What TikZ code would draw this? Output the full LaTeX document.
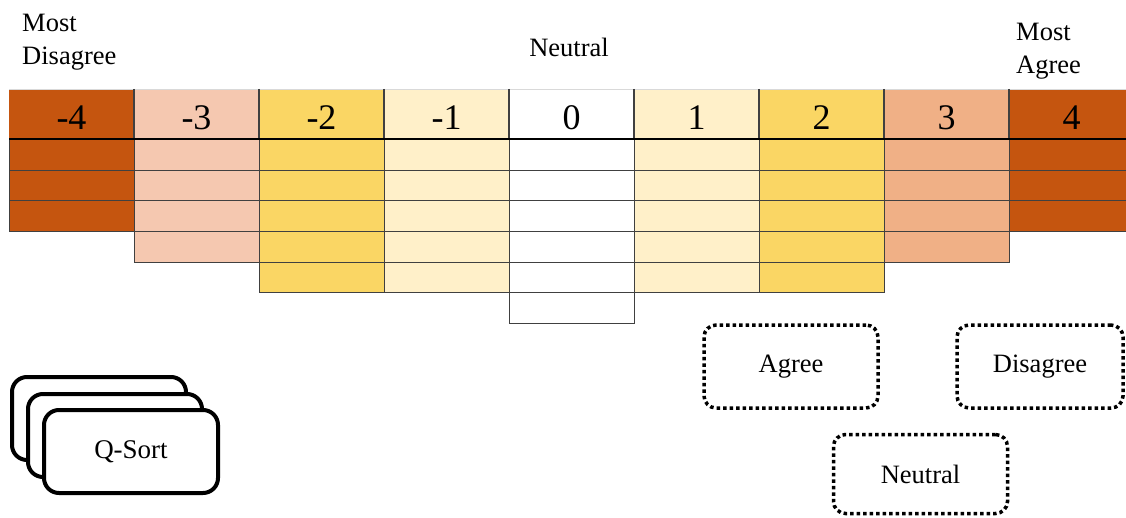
\documentclass[tikz,border=0pt]{standalone}
\usepackage{fontspec}
\setmainfont{Liberation Serif}
\definecolor{darkor}{HTML}{C5550F}
\definecolor{peach}{HTML}{F5C8B0}
\definecolor{yellowq}{HTML}{FAD664}
\definecolor{creamq}{HTML}{FFF0C9}
\definecolor{salmon}{HTML}{F0B086}
\tikzset{
  cell/.style={draw=black!75, line width=1.1pt, minimum width=125pt, minimum height=30.67pt, inner sep=0pt, anchor=north west},
  hcell/.style={minimum width=125pt, minimum height=50pt, inner sep=0pt, anchor=north west},
  num/.style={font=\fontsize{36}{40}\selectfont, anchor=base, inner sep=0pt},
  lab/.style={font=\fontsize{26.5}{32.5}\selectfont, inner sep=0pt, align=left},
  dotbox/.style={draw, line width=3.5pt, dash pattern=on 3.5pt off 3pt, rounded corners=12pt, minimum height=83pt, font=\fontsize{26.5}{32}\selectfont},
  card/.style={draw, fill=white, line width=4pt, rounded corners=15pt, minimum width=174pt, minimum height=83pt, font=\fontsize{27}{32}\selectfont},
}
\begin{document}
\begin{tikzpicture}[x=1pt,y=-1pt]
\useasboundingbox (0,0) rectangle (1126,518);
\clip (0,0) rectangle (1126,518);
% labels
\node[lab, anchor=north west] (mostdis) at (22,14) {Most\\Disagree};
\node[lab, anchor=base] (neutop) at (569,57) {Neutral};
\node[lab, anchor=north west] (mostagr) at (1016,23) {Most\\Agree};
% grid
\foreach \i/\lab/\col/\n in {0/-4/darkor/3, 1/-3/peach/4, 2/-2/yellowq/5, 3/-1/creamq/5, 4/0/white/6, 5/1/creamq/5, 6/2/yellowq/5, 7/3/salmon/4, 8/4/darkor/3} {
  \pgfmathsetmacro\xl{9+125*\i}
  \node[hcell, fill=\col] (h\i) at (\xl,89) {};
  \node[num] (n\i) at (\xl+62.5,130) {\lab};
  \foreach \j in {1,...,\n} {
    \node[cell, fill=\col] (c\i-\j) at (\xl,{139+30.67*(\j-1)}) {};
  }
}
\draw[black!15, line width=0.8pt] (h0.north west) -- (h8.north east);
\foreach \i in {1,...,8} {
  \draw[black!75, line width=1.1pt] (h\i.north west) -- (h\i.south west);
}
\draw[black, line width=2pt] (h0.south west) -- (h8.south east);
% dotted category boxes
\node[dotbox, minimum width=174pt] (agree) at (791,366.5) {Agree};
\node[dotbox, minimum width=166pt] (disagree) at (1040,366.5) {Disagree};
\node[dotbox, minimum width=174pt, minimum height=79pt] (neutral) at (920.5,474) {Neutral};
% Q-sort cards
\node[card] (card1) at (99,418.5) {};
\node[card] (card2) at (115,435.5) {};
\node[card] (card3) at (131,451.5) {\raisebox{-2pt}{Q-Sort}};
\end{tikzpicture}
\end{document}
